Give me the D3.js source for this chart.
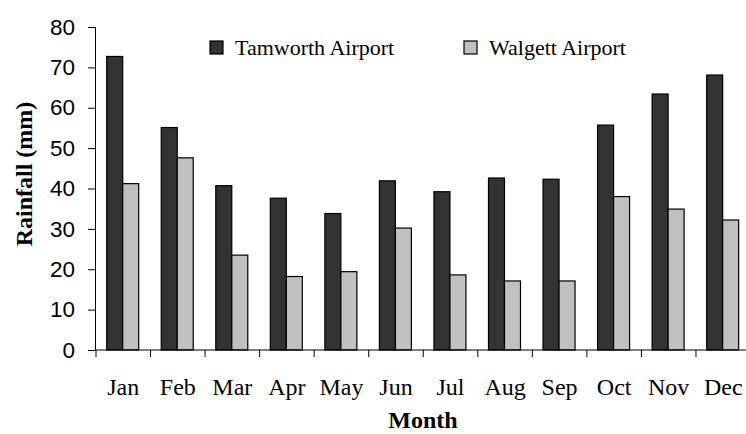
<!DOCTYPE html>
<html><head><meta charset="utf-8">
<script src="https://cdn.jsdelivr.net/npm/d3@7"></script>
<style>body{margin:0;background:#fff;}svg{display:block;}</style>
</head><body>
<svg id="chart" width="746" height="434"></svg>
<script>
const months = ["Jan","Feb","Mar","Apr","May","Jun","Jul","Aug","Sep","Oct","Nov","Dec"];
const seriesNames = ["Tamworth Airport","Walgett Airport"];
const tamworth = [72.7,55.1,40.7,37.6,33.8,41.9,39.2,42.6,42.3,55.7,63.4,68.1];
const walgett  = [41.2,47.6,23.5,18.2,19.4,30.2,18.6,17.1,17.1,38.0,34.9,32.2];
const yTicks = [0,10,20,30,40,50,60,70,80];
const colors = ["#333333","#c0c0c0"];

const svg = d3.select("#chart");
const x = d3.scaleBand().domain(months).range([96, 750.5]).padding(0);
const y = d3.scaleLinear().domain([0,80]).range([350,27]);
const x1 = d3.scaleBand().domain(seriesNames).range([10.7, 10.7+32]).padding(0);

const data = [tamworth, walgett];
const g = svg.append("g");
data.forEach((vals,si)=>{
  g.selectAll(null).data(vals).enter().append("rect")
    .attr("x",(d,i)=>x(months[i])+x1(seriesNames[si]))
    .attr("y",d=>y(d))
    .attr("width",x1.bandwidth())
    .attr("height",d=>y(0)-y(d))
    .attr("fill",colors[si])
    .attr("stroke","#000")
    .attr("stroke-width",1.2);
});

// Y axis
const yAxis = d3.axisLeft(y).tickValues(yTicks).tickSize(8).tickPadding(13).tickFormat(d3.format("d"));
const ya = svg.append("g").attr("transform","translate(96,0)").call(yAxis);
ya.select(".domain").attr("stroke","#000").attr("d","M-0.5,27V350");
ya.selectAll(".tick line").attr("stroke","#000");
ya.selectAll("text").attr("font-family","'Liberation Sans',Arial,sans-serif").attr("font-size",22.5).attr("fill","#000");

// X axis
const xa = svg.append("g").attr("transform","translate(0,350)");
xa.append("line").attr("x1",96).attr("x2",750.5).attr("y1",0).attr("y2",0).attr("stroke","#000");
xa.selectAll("line.tk").data(months).enter().append("line").attr("class","tk")
  .attr("x1",d=>x(d)).attr("x2",d=>x(d)).attr("y1",0).attr("y2",7).attr("stroke","#000");
xa.selectAll("text").data(months).enter().append("text")
  .attr("x",d=>x(d)+x.bandwidth()/2).attr("y",45)
  .attr("text-anchor","middle")
  .attr("font-family","'Liberation Serif','Times New Roman',serif").attr("font-size",24)
  .text(d=>d);

// Axis titles
svg.append("text").attr("x",423).attr("y",428).attr("text-anchor","middle")
  .attr("font-family","'Liberation Serif','Times New Roman',serif").attr("font-size",24).attr("font-weight","bold")
  .text("Month");
svg.append("text").attr("transform","translate(32,174) rotate(-90)").attr("text-anchor","middle")
  .attr("font-family","'Liberation Serif','Times New Roman',serif").attr("font-size",24).attr("font-weight","bold")
  .text("Rainfall (mm)");

// Legend
const legX = [210,464];
seriesNames.forEach((s,i)=>{
  svg.append("rect").attr("x",legX[i]).attr("y",41).attr("width",13).attr("height",13)
    .attr("fill",colors[i]).attr("stroke","#000").attr("stroke-width",1.2);
  svg.append("text").attr("x",legX[i]+25).attr("y",55)
    .attr("font-family","'Liberation Serif','Times New Roman',serif").attr("font-size",22)
    .text(s);
});
</script>
</body></html>
